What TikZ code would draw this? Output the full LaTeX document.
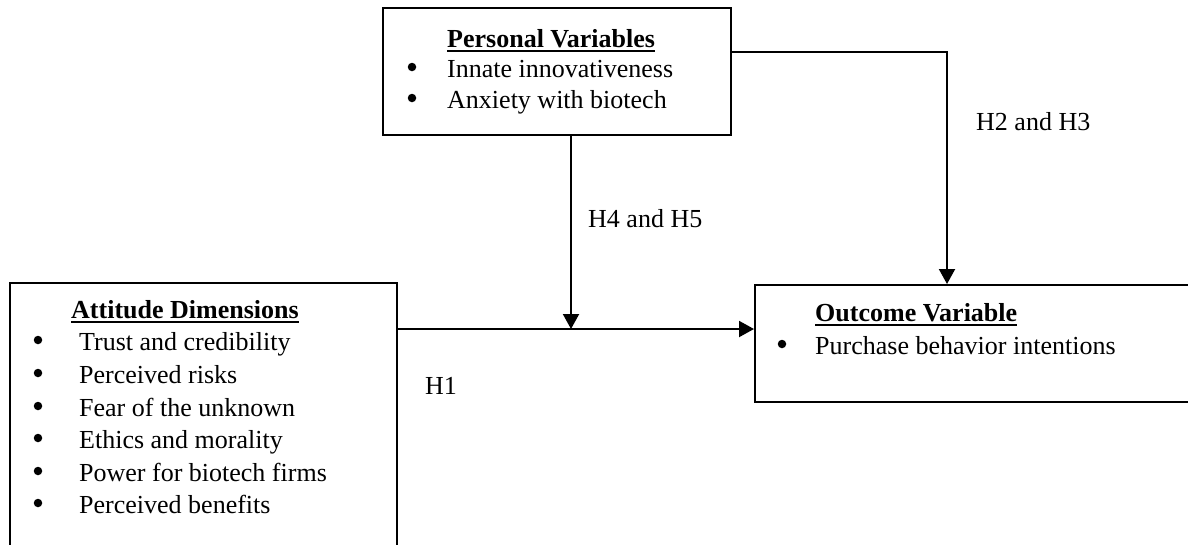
\documentclass[tikz,border=0pt]{standalone}
\usepackage{fontspec}
\setmainfont{Liberation Serif}
\usetikzlibrary{arrows.meta}
\newcommand{\hdul}[1]{\setbox0\hbox{\bfseries #1}\rlap{\rule[-4.5pt]{\wd0}{1.8pt}}\box0}
\begin{document}
\begin{tikzpicture}[x=1pt,y=-1pt,
  box/.style={draw,line width=2pt,rectangle,inner sep=0pt},
  txt/.style={anchor=base west,inner sep=0pt,font=\fontsize{26}{31}\selectfont},
  bul/.style={circle,fill,inner sep=0pt,minimum size=8.5pt},
  arr/.style={line width=2pt,-{Triangle[length=15pt,width=16pt]}}]
\useasboundingbox (0,0) rectangle (1188,544);
\clip (0,0) rectangle (1188,544);
% boxes
\node[box,minimum width=348pt,minimum height=127pt] (pv) at (557,71.5) {};
\node[box,minimum width=387pt,minimum height=287pt] (ad) at (203.5,426.5) {};
\node[box,minimum width=460pt,minimum height=117pt] (ov) at (985,343.5) {};
% personal variables
\node[txt] (pvh) at (447,47) {\hdul{Personal Variables}};
\node[bul] (pvb1) at (412,67) {};
\node[txt] (pvt1) at (447,77) {Innate innovativeness};
\node[bul] (pvb2) at (412,98) {};
\node[txt] (pvt2) at (447,108) {Anxiety with biotech};
% attitude dimensions
\node[txt] (adh) at (71,318) {\hdul{Attitude Dimensions}};
\node[bul] (adb1) at (38,340) {};
\node[txt] (adt1) at (79,350) {Trust and credibility};
\node[bul] (adb2) at (38,373) {};
\node[txt] (adt2) at (79,383) {Perceived risks};
\node[bul] (adb3) at (38,406) {};
\node[txt] (adt3) at (79,416) {Fear of the unknown};
\node[bul] (adb4) at (38,438) {};
\node[txt] (adt4) at (79,448) {Ethics and morality};
\node[bul] (adb5) at (38,471) {};
\node[txt] (adt5) at (79,481) {Power for biotech firms};
\node[bul] (adb6) at (38,503) {};
\node[txt] (adt6) at (79,513) {Perceived benefits};
% outcome variable
\node[txt] (ovh) at (815,321) {\hdul{Outcome Variable}};
\node[bul] (ovb1) at (782,344) {};
\node[txt] (ovt1) at (815,354) {Purchase behavior intentions};
% labels
\node[txt] (l23) at (976,130) {H2 and H3};
\node[txt] (l45) at (588,227) {H4 and H5};
\node[txt] (l1) at (425,394) {H1};
% connectors
\coordinate (c1) at (947,52);
\coordinate (jn) at (571,329);
\draw[arr] (pv.east |- c1) -| (c1 |- ov.north);
\draw[arr] (jn |- pv.south) -- (jn);
\draw[arr] (ad.east |- jn) -- (jn -| ov.west);
\end{tikzpicture}
\end{document}
